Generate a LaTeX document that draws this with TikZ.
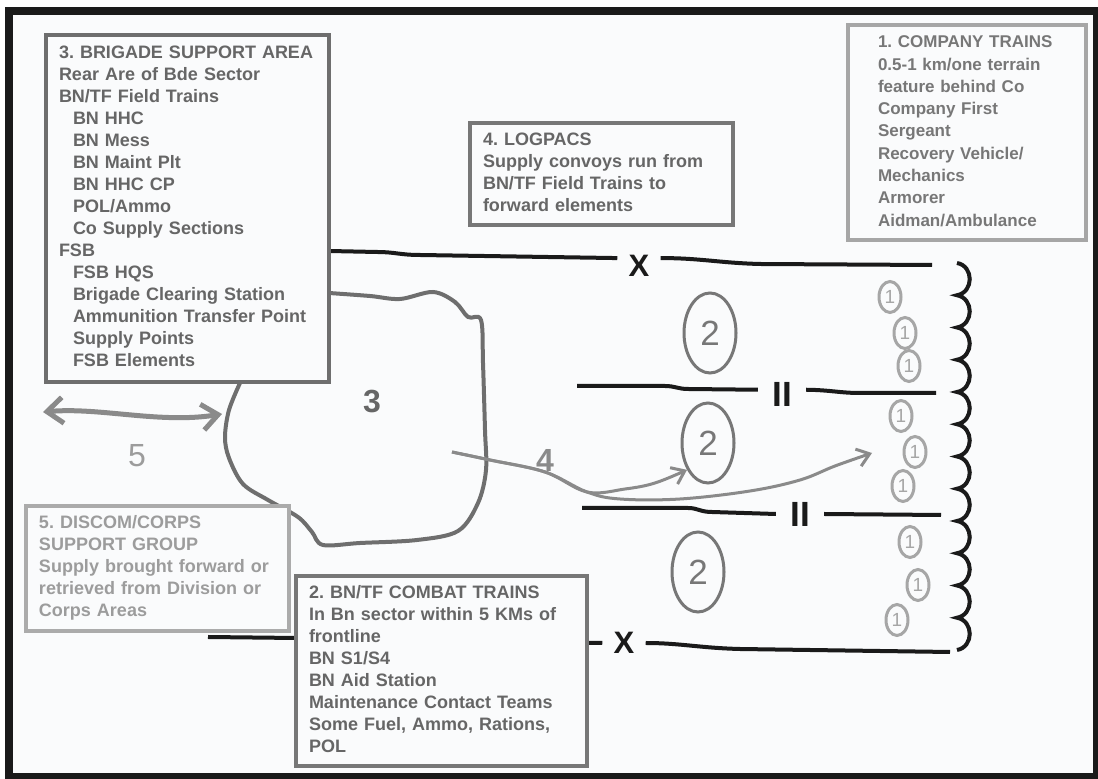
\documentclass[tikz,border=0pt]{standalone}
\usepackage{fontspec}
\setmainfont{Liberation Sans}
\usepackage{tikz}
\usetikzlibrary{arrows.meta,shapes.geometric}
\definecolor{cInk}{HTML}{1A1A1A}
\definecolor{cPaper}{HTML}{FAFBFC}
\definecolor{cText}{HTML}{666666}
\definecolor{cRule}{HTML}{777777}
\definecolor{cPale}{HTML}{9C9C9C}
\definecolor{cPaleRule}{HTML}{ABABAB}
\definecolor{cArea}{HTML}{6E6E6E}
\definecolor{cFlow}{HTML}{8A8A8A}
\definecolor{cCo}{HTML}{A6A6A6}
\tikzset{
  map/box/.style={draw=cRule, line width=2pt, fill=cPaper, text=cText,
                  outer sep=0pt, anchor=north west, align=left,
                  inner xsep=6.5pt, inner ysep=0pt,
                  font=\fontsize{9}{11}\selectfont\bfseries\frenchspacing},
  map/palebox/.style={map/box, draw=cPaleRule, text=cPale},
  map/cobox/.style  ={map/box, draw=cPale!90!white, text=cRule,
                      font=\fontsize{8.5}{11.15}\selectfont\bfseries\frenchspacing},
  map/bound/.style  ={cInk, line width=2pt},
  map/xmark/.style  ={text=cInk, inner xsep=5.5pt, inner ysep=0pt,
                      font=\fontsize{15.5}{15.5}\selectfont\bfseries},
  map/iimark/.style ={text=cInk, inner xsep=7pt, inner ysep=0pt,
                      font=\fontsize{17.5}{17.5}\selectfont\bfseries},
  map/bn/.style     ={ellipse, draw=cRule, line width=1.5pt, minimum width=26pt,
                      minimum height=40pt, inner sep=0pt, text=cRule,
                      font=\fontsize{17.5}{17.5}\selectfont},
  map/co/.style     ={ellipse, draw=cCo, line width=1.5pt, minimum width=11pt,
                      minimum height=15.5pt, inner sep=0pt, text=cCo,
                      font=\fontsize{9.5}{9.5}\selectfont},
  map/area/.style   ={cArea, line width=2pt, line join=round},
  map/flow/.style   ={cFlow, line width=1.5pt, line join=round,
                      -{Straight Barb[length=6pt, width=9pt]}},
  map/twoway/.style ={cFlow, line width=2.5pt,
                      {Straight Barb[length=8pt, width=13pt]}-{Straight Barb[length=8pt, width=13pt]}},
  map/num/.style    ={font=\fontsize{16}{16}\selectfont\bfseries, text=cText}
}
\newcommand{\subln}{\hspace*{7pt}}

\begin{document}
\begin{tikzpicture}[x=0.5pt, y=-0.5pt]
    \useasboundingbox (0,0) rectangle (1098,779);
    % --- sheet and frame ---
    \fill[cPaper] (9,11) rectangle (1097,777);
    \draw[cInk, line width=4pt] (9,11) rectangle (1097,777);

    % --- echelon marks ---
    \node[map/xmark]  (xtop)  at (639,266) {X};
    \node[map/xmark]  (xbot)  at (624,643) {X};
    \node[map/iimark] (iitop) at (782,394) {II};
    \node[map/iimark] (iibot) at (800,514) {II};

    % --- free ends of the boundaries ---
    \coordinate (tl0) at (329,251);  \coordinate (tl1) at (932,265);
    \coordinate (ua0) at (577,386);  \coordinate (ua1) at (936,393);
    \coordinate (lb0) at (582,508);  \coordinate (lb1) at (941,515);
    \coordinate (bb0) at (208,637);  \coordinate (bb1) at (950,652);

    % --- brigade and battalion boundaries ---
    \draw[map/bound] (tl0) -- (377,252) .. controls (395,252) and (400,255) .. (420,255) -- (xtop.160);
    \draw[map/bound] (xtop.20) .. controls (700,258) and (720,263) .. (760,264) -- (tl1);
    \draw[map/bound] (ua0) -- (665,386) .. controls (675,386) and (678,389) .. (688,389) -- (iitop.170);
    \draw[map/bound] (iitop.10) .. controls (830,390) and (840,393) .. (860,393) -- (ua1);
    \draw[map/bound] (lb0) -- (688,508) .. controls (698,508) and (700,512) .. (712,512) -- (iibot.west);
    \draw[map/bound] (iibot.east) -- (lb1);
    \draw[map/bound] (bb0) -- (296,638) -- (xbot.west);
    \draw[map/bound] (xbot.east) .. controls (680,643) and (700,648) .. (740,649) -- (bb1);

    % --- front line trace ---
    \draw[map/bound] (957,263)
      \foreach \k in {1,...,12}{ .. controls +(17,3) and +(17,-3) .. ++(0,32.25) };

    % --- brigade support area ---
    \draw[map/area] plot[smooth, tension=0.55] coordinates {
      (329,293) (370,296) (400,299) (433,292) (455,302) (468,317) (481,320)
      (483,363) (485,430) (486,470) (478,503) (458,531) (417,540) (360,543)
      (323,545) (312,532) (298,517) (268,500) (243,484) (229,458) (225,437)
      (229,410) (240,383)};
    \node[map/num] (lbl3) at (372,402) {3};

    % --- battalion and company trains ---
    \node[map/bn] (bn1) at (710,333) {2};
    \node[map/bn] (bn2) at (708,443) {2};
    \node[map/bn] (bn3) at (698,572) {2};
    \foreach \px/\py [count=\i] in {890/297, 905/333, 909/366, 901/416, 915/452,
                                    903/486, 910/542, 918/585, 897/620}
      \node[map/co] (co\i) at (\px,\py) {1};

    % --- logpac routes (4) ---
    \coordinate (a4s) at (452,452);
    \coordinate (a4e) at (872,453);
    \draw[map/flow] plot[smooth, tension=0.6] coordinates {
      (a4s) (490,460) (545,472) (587,492) (625,489) (655,483) (bn2.232)};
    \draw[map/flow] plot[smooth, tension=0.6] coordinates {
      (a4s) (490,460) (545,472) (587,492) (620,499) (680,499) (750,491)
      (800,480) (835,466) (a4e)};
    \node[map/num, text=cFlow] (lbl4) at (545,460) {4};

    % --- discom / corps link (5) ---
    \coordinate (a5l) at (43,412);
    \coordinate (a5r) at (222,414);
    \draw[map/twoway] (a5l) .. controls (100,407) and (160,424) .. (a5r);
    \node[map/num, font=\fontsize{16}{16}\selectfont, text=cPale] (lbl5) at (137,456) {5};

    % --- text boxes ---
    \node[map/box, draw=cArea, text width=128.5pt, minimum height=173.5pt] (bsa) at (46,35)
      {\strut 3. BRIGADE SUPPORT AREA\\Rear Are of Bde Sector\\BN/TF Field Trains\\
       \subln BN HHC\\\subln BN Mess\\\subln BN Maint Plt\\\subln BN HHC CP\\
       \subln POL/Ammo\\\subln Co Supply Sections\\FSB\\\subln FSB HQS\\
       \subln Brigade Clearing Station\\\subln Ammunition Transfer Point\\
       \subln Supply Points\\\subln FSB Elements\strut};
    \node[map/cobox, text width=89pt, inner xsep=15pt, minimum height=107.5pt] (cotr) at (848,25)
      {\strut 1. COMPANY TRAINS\\0.5-1 km/one terrain\\feature behind Co\\Company First\\
       Sergeant\\Recovery Vehicle/\\Mechanics\\Armorer\\Aidman/Ambulance\strut};
    \node[map/box, text width=118.5pt, minimum height=51pt] (logpac) at (470,123)
      {\strut 4. LOGPACS\\Supply convoys run from\\BN/TF Field Trains to\\forward elements\strut};
    \node[map/palebox, text width=118.5pt, minimum height=62.5pt] (discom) at (26,506)
      {\strut 5. DISCOM/CORPS\\SUPPORT GROUP\\Supply brought forward or\\
       retrieved from Division or\\Corps Areas\strut};
    \node[map/box, text width=132.5pt, minimum height=95pt] (cbt) at (296,576)
      {\strut 2. BN/TF COMBAT TRAINS\\In Bn sector within 5 KMs of\\frontline\\BN S1/S4\\
       BN Aid Station\\Maintenance Contact Teams\\Some Fuel, Ammo, Rations,\\POL\strut};
\end{tikzpicture}
\end{document}
